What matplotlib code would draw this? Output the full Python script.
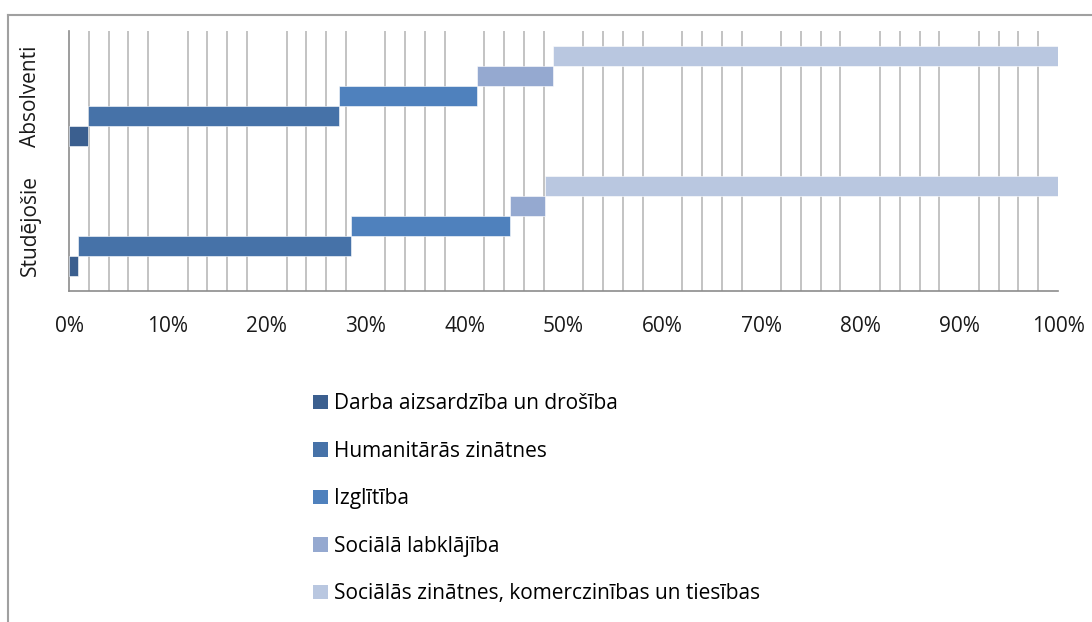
import matplotlib
matplotlib.use("Agg")
import matplotlib.pyplot as plt
import numpy as np
from matplotlib.lines import Line2D
from matplotlib.patches import Patch
from matplotlib.ticker import FixedLocator

plt.rcParams["font.family"] = ["Open Sans", "DejaVu Sans"]

# categories, bottom to top
categories = ["Studējošie", "Absolventi"]
series = [
    "Darba aizsardzība un drošība",
    "Humanitārās zinātnes",
    "Izglītība",
    "Sociālā labklājība",
    "Sociālās zinātnes, komerczinības un tiesības",
]
# shares in % (Studējošie, Absolventi)
darba = [0.9, 1.9]
humanitaras = [27.6, 25.4]
izglitiba = [16.1, 14.0]
soc_labklajiba = [3.5, 7.6]
soc_zinatnes = [51.9, 51.1]
colors = ["#3b5f8f", "#4672a8", "#4f81bd", "#95a9d0", "#b9c7e0"]
x_ticks = [0, 10, 20, 30, 40, 50, 60, 70, 80, 90, 100]

values = [darba, humanitaras, izglitiba, soc_labklajiba, soc_zinatnes]

fig = plt.figure(figsize=(10.92, 6.22), dpi=100)
ax = fig.add_axes([69 / 1092, 1 - 291 / 622, (1058 - 69) / 1092, 260 / 622])

n = len(series)
h = 1 / 1.3 / n
y = np.arange(len(categories))
left = np.zeros(len(categories))
for i, (name, vals) in enumerate(zip(series, values)):
    yy = y - (n - 1) / 2 * h + i * h
    ax.barh(yy, vals, height=h, left=left, color=colors[i],
            edgecolor="white", linewidth=0.4, zorder=3, label=name)
    left += np.array(vals)

fs = 15
ax.set_xlim(0, 100)
ax.set_ylim(-0.5, 1.5)
ax.set_xticks(x_ticks)
ax.set_xticklabels([f"{t}%" for t in x_ticks], fontsize=fs, color="#1a1a1a")
minor = [v for v in range(2, 100, 2) if v % 10 != 0]
ax.xaxis.set_minor_locator(FixedLocator(minor))
ax.grid(which="minor", axis="x", color="#bebebe", linewidth=1.3, zorder=0)
ax.tick_params(axis="x", which="both", length=0, pad=18)
ax.set_yticks(y)
ax.set_yticklabels(categories, rotation=90, va="center", fontsize=fs, color="#1a1a1a")
ax.tick_params(axis="y", length=0, pad=20)
for s in ["top", "right"]:
    ax.spines[s].set_visible(False)
for s in ["left", "bottom"]:
    ax.spines[s].set_color("#8c8c8c")
    ax.spines[s].set_linewidth(1.2)

# outer chart border (partially cropped)
fig.add_artist(Line2D([8 / 1092, 1.0], [1 - 15 / 622] * 2, transform=fig.transFigure,
                      color="#a0a0a0", linewidth=1.5))
fig.add_artist(Line2D([8 / 1092] * 2, [0.0, 1 - 15 / 622], transform=fig.transFigure,
                      color="#a0a0a0", linewidth=1.5))

handles = [Patch(facecolor=c, label=s) for c, s in zip(colors, series)]
fig.legend(handles=handles, loc="upper left", bbox_to_anchor=(303 / 1092, 1 - 383 / 622),
           frameon=False, fontsize=fs, handlelength=0.7, handleheight=0.7,
           handletextpad=0.3, labelspacing=1.27, borderpad=0)

fig.savefig("out.png", dpi=100)
